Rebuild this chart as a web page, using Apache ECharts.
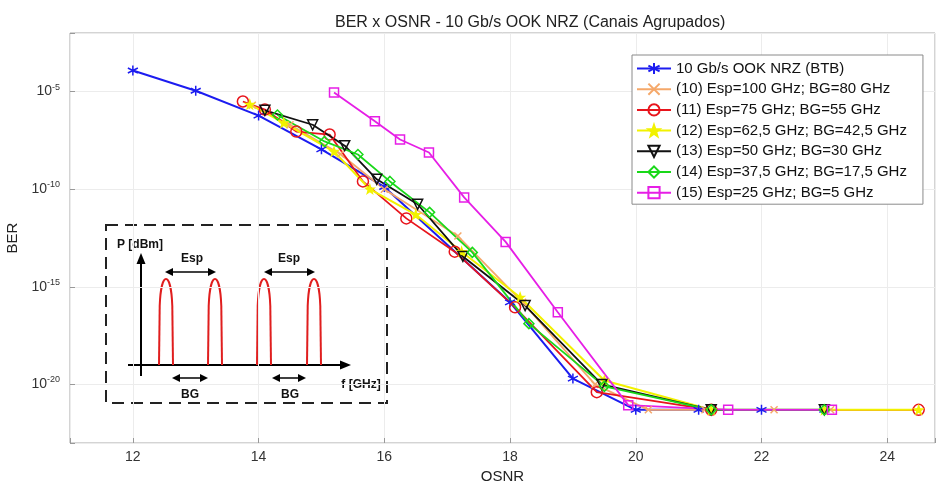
<!DOCTYPE html>
<html>
<head>
<meta charset="utf-8">
<script src="https://cdn.jsdelivr.net/npm/echarts@6/dist/echarts.min.js"></script>
<style>
  html, body { margin: 0; padding: 0; background: #fff; }
  #chart { width: 938px; height: 483px; }
</style>
</head>
<body>
<div id="chart"></div>
<script>
// ---- data: OSNR (dB) and measured BER for each channel configuration ----
const seriesNames = [
  '10 Gb/s OOK NRZ (BTB)',
  '(10) Esp=100 GHz; BG=80 GHz',
  '(11) Esp=75 GHz; BG=55 GHz',
  '(12) Esp=62,5 GHz; BG=42,5 GHz',
  '(13) Esp=50 GHz; BG=30 GHz',
  '(14) Esp=37,5 GHz; BG=17,5 GHz',
  '(15) Esp=25 GHz; BG=5 GHz'
];

const osnrBTB = [12, 13, 14, 15, 16, 18, 19, 20, 21, 22, 23];
const berBTB  = [1.2e-4, 1.1e-5, 5.9e-7, 1.1e-8, 1.3e-10, 1.6e-16, 2e-20, 5e-22, 5e-22, 5e-22, 5e-22];

const osnr10 = [13.9, 14.5, 15.3, 16.0, 17.17, 18.2, 19.35, 20.2, 21.1, 22.2, 23.1];
const ber10  = [2e-6, 2e-7, 6.3e-9, 1e-10, 4e-13, 1.6e-16, 1e-20, 5e-22, 5e-22, 5e-22, 5e-22];

const osnr11 = [13.75, 14.1, 14.6, 15.13, 15.66, 16.35, 17.12, 18.08, 19.38, 21.2, 24.5];
const ber11  = [3.1e-6, 1.2e-6, 8.9e-8, 6.3e-8, 2.5e-10, 3.2e-12, 6.3e-14, 8.9e-17, 4e-21, 5e-22, 5e-22];

const osnr12 = [13.86, 14.4, 15.2, 15.77, 16.5, 17.23, 18.16, 19.5, 21.2, 23.0, 24.5];
const ber12  = [2.2e-6, 2.5e-7, 8.5e-9, 1e-10, 5e-12, 6.3e-14, 2.9e-16, 1.6e-20, 5e-22, 5e-22, 5e-22];

const osnr13 = [14.1, 14.86, 15.37, 15.88, 16.53, 17.25, 18.24, 19.46, 21.2, 23.0];
const ber13  = [1.1e-6, 2e-7, 1.7e-8, 3.2e-10, 1.7e-11, 3.6e-14, 1.1e-16, 1e-20, 5e-22, 5e-22];

const osnr14 = [14.3, 15.05, 15.58, 16.09, 16.72, 17.4, 18.3, 19.5, 21.2, 23.0];
const ber14  = [6.3e-7, 2.8e-8, 6e-9, 2.5e-10, 6.5e-12, 5.8e-14, 1.3e-17, 8e-21, 5e-22, 5e-22];

const osnr15 = [15.2, 15.85, 16.25, 16.71, 17.27, 17.93, 18.76, 19.88, 21.47, 23.12];
const ber15  = [8.9e-6, 3e-7, 3.5e-8, 7.6e-9, 3.8e-11, 2e-13, 5e-17, 8.7e-22, 5e-22, 5e-22];

// axis tick values
const xTicks = [12, 14, 16, 18, 20, 22, 24];
const yTickExponents = [-5, -10, -15, -20];

// ---- styling ----
const FONT = '"Liberation Sans", Arial, Helvetica, sans-serif';
const SYM = {
  asterisk: 'path://M5,0V10M0.67,2.5L9.33,7.5M0.67,7.5L9.33,2.5',
  cross: 'path://M0,0L10,10M0,10L10,0',
  circle: 'path://M10,5A5,5,0,1,1,0,5A5,5,0,1,1,10,5Z',
  star: 'path://M5,0L6.18,3.38L9.76,3.45L6.9,5.62L7.94,9.05L5,7L2.06,9.05L3.1,5.62L0.24,3.45L3.82,3.38Z',
  triDown: 'path://M0,0L10,0L5,9Z',
  diamond: 'path://M5,0L10,5L5,10L0,5Z',
  square: 'path://M0,0H10V10H0Z'
};

const seriesDefs = [
  { x: osnrBTB, y: berBTB, color: '#1c1cf0', symbol: SYM.asterisk, size: 10, fill: '#1c1cf0', width: 2 },
  { x: osnr10,  y: ber10,  color: '#f5a86a', symbol: SYM.cross,    size: 7,  fill: '#f5a86a', width: 1.8 },
  { x: osnr11,  y: ber11,  color: '#e8141c', symbol: SYM.circle,   size: 11, fill: 'rgba(0,0,0,0)', width: 1.8 },
  { x: osnr12,  y: ber12,  color: '#f2f200', symbol: SYM.star,     size: 8,  fill: '#f2f200', width: 2 },
  { x: osnr13,  y: ber13,  color: '#111111', symbol: SYM.triDown,  size: 10, fill: 'rgba(0,0,0,0)', width: 1.8 },
  { x: osnr14,  y: ber14,  color: '#19d819', symbol: SYM.diamond,  size: 10, fill: 'rgba(0,0,0,0)', width: 1.8 },
  { x: osnr15,  y: ber15,  color: '#e61ee6', symbol: SYM.square,   size: 9,  fill: 'rgba(0,0,0,0)', width: 1.8 }
];

const series = seriesDefs.map((d, k) => ({
  name: seriesNames[k],
  type: 'line',
  data: d.x.map((v, i) => [v, Math.log10(d.y[i])]),
  symbol: d.symbol,
  symbolSize: d.size,
  showSymbol: true,
  lineStyle: { color: d.color, width: d.width },
  itemStyle: { color: d.fill, borderColor: d.color, borderWidth: 1.5 },
  emphasis: { disabled: true },
  animation: false
}));

// inset sketch: four optical channels with spacing (Esp) and guard band (BG)
const peakCenters = [166, 215, 264, 314];
const insetBase = 365, insetTop = 278;
const insetElems = [
  { type: 'rect', shape: { x: 106, y: 225, width: 281, height: 178 },
    style: { fill: '#fff', stroke: '#222', lineWidth: 2, lineDash: [12, 7] } },
  { type: 'line', shape: { x1: 141, y1: 376, x2: 141, y2: 262 }, style: { stroke: '#000', lineWidth: 2 } },
  { type: 'polygon', shape: { points: [[141, 253], [136.5, 264], [145.5, 264]] }, style: { fill: '#000' } },
  { type: 'line', shape: { x1: 128, y1: insetBase, x2: 342, y2: insetBase }, style: { stroke: '#000', lineWidth: 2 } },
  { type: 'polygon', shape: { points: [[351, insetBase], [340, 360.5], [340, 369.5]] }, style: { fill: '#000' } }
];
peakCenters.forEach(c => {
  const sideTop = insetTop + 28;
  const red = { stroke: '#e01e1e', lineWidth: 2, fill: null };
  insetElems.push(
    { type: 'line', shape: { x1: c - 7, y1: insetBase, x2: c - 6.3, y2: sideTop }, style: red },
    { type: 'line', shape: { x1: c + 7, y1: insetBase, x2: c + 6.3, y2: sideTop }, style: red },
    { type: 'bezierCurve',
      shape: { x1: c - 6.3, y1: sideTop, cpx1: c - 5, cpy1: insetTop - 8, cpx2: c + 5, cpy2: insetTop - 8, x2: c + 6.3, y2: sideTop },
      style: red }
  );
});
function dblArrow(x1, x2, y) {
  return [
    { type: 'line', shape: { x1: x1 + 6, y1: y, x2: x2 - 6, y2: y }, style: { stroke: '#000', lineWidth: 1.5 } },
    { type: 'polygon', shape: { points: [[x1, y], [x1 + 8, y - 4], [x1 + 8, y + 4]] }, style: { fill: '#000' } },
    { type: 'polygon', shape: { points: [[x2, y], [x2 - 8, y - 4], [x2 - 8, y + 4]] }, style: { fill: '#000' } }
  ];
}
insetElems.push(...dblArrow(165, 216, 272), ...dblArrow(264, 315, 272),
                ...dblArrow(172, 208, 378), ...dblArrow(272, 306, 378));
function label(text, x, y, align) {
  return { type: 'text', x: x, y: y,
    style: { text: text, font: 'bold 12px ' + FONT, fill: '#111', align: align || 'center', verticalAlign: 'middle' } };
}
insetElems.push(label('P [dBm]', 117, 245, 'left'), label('Esp', 192, 259), label('Esp', 289, 259),
                label('BG', 190, 395), label('BG', 290, 395), label('f [GHz]', 361, 385));

const option = {
  backgroundColor: '#fff',
  animation: false,
  textStyle: { fontFamily: FONT },
  title: {
    text: 'BER x OSNR - 10 Gb/s OOK NRZ (Canais Agrupados)',
    left: 330, top: 10,
    textStyle: { fontSize: 16, fontWeight: 'normal', color: '#222', fontFamily: FONT }
  },
  grid: {
    left: 70, top: 33, right: 3, bottom: 40,
    outerBoundsMode: 'none', containLabel: false,
    show: true, borderColor: '#a8a8a8', borderWidth: 1, backgroundColor: '#fff'
  },
  legend: {
    orient: 'vertical',
    left: 632, top: 55,
    padding: [6, 16, 4, 4],
    itemWidth: 34, itemHeight: 14, itemGap: 5.7,
    backgroundColor: '#fff', borderColor: '#8a8a8a', borderWidth: 1,
    textStyle: { fontSize: 15, color: '#111', fontFamily: FONT },
    selectedMode: false,
    data: seriesNames
  },
  xAxis: {
    type: 'value',
    min: 11, max: 24.76,
    minInterval: 2, maxInterval: 2,
    name: 'OSNR', nameLocation: 'middle', nameGap: 16,
    nameTextStyle: { fontSize: 15, color: '#222' },
    axisLine: { show: false },
    axisTick: { show: true, inside: true, length: 5, lineStyle: { color: '#999' } },
    axisLabel: {
      fontSize: 14, color: '#333', margin: 7,
      formatter: v => (xTicks.indexOf(v) >= 0 ? String(v) : '')
    },
    splitLine: { show: true, lineStyle: { color: '#ececec', width: 1 } }
  },
  yAxis: {
    type: 'value',
    min: -23, max: -2,
    minInterval: 5, maxInterval: 5,
    name: 'BER', nameLocation: 'middle', nameGap: 40,
    nameTextStyle: { fontSize: 15, color: '#222' },
    axisLine: { show: false },
    axisTick: { show: true, inside: true, length: 5, lineStyle: { color: '#999' } },
    axisLabel: {
      margin: 10, color: '#333',
      formatter: v => (yTickExponents.indexOf(v) >= 0 ? '{b|10}{s|' + v + '}' : ''),
      rich: {
        b: { fontSize: 14, color: '#333', fontFamily: FONT },
        s: { fontSize: 9, color: '#333', fontFamily: FONT, padding: [0, 0, 9, 0] }
      }
    },
    splitLine: { show: true, lineStyle: { color: '#ececec', width: 1 } }
  },
  graphic: [{ type: 'group', z: 50, children: insetElems }],
  series: series
};

const chart = echarts.init(document.getElementById('chart'), null, { renderer: 'canvas' });
chart.setOption(option);
</script>
</body>
</html>
